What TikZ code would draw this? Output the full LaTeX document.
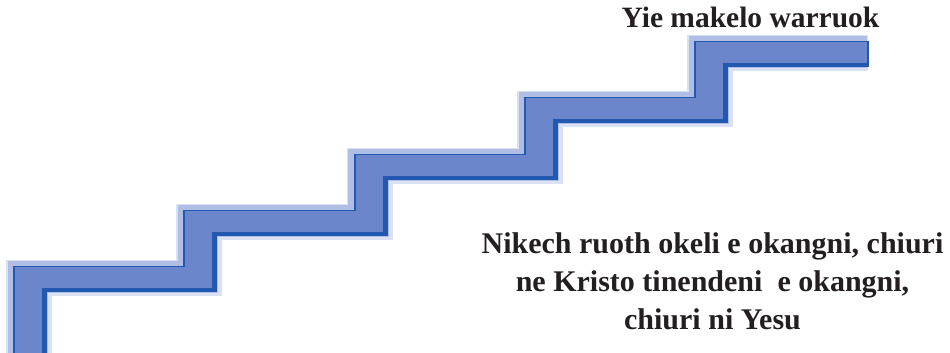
\documentclass[tikz,border=0pt]{standalone}
\usepackage{fontspec}
\setmainfont{Liberation Serif}
\begin{document}
\begin{tikzpicture}[x=1pt,y=-1pt,
  stairhalo/.style={line width=36pt, draw=stairfaint, line join=miter, line cap=butt},
  stairglow/.style={line width=32pt, draw=stairlight, line join=miter, line cap=butt},
  stairdark/.style={line width=26pt, draw=stairdeep, line join=miter, line cap=butt},
  stairmain/.style={line width=21pt, draw=stairmid, line join=miter, line cap=butt},
  label/.style={text=textink, align=center, inner sep=0pt}]
\definecolor{stairfaint}{RGB}{218,225,243}
\definecolor{stairlight}{RGB}{176,190,229}
\definecolor{stairdeep}{RGB}{34,88,176}
\definecolor{stairmid}{RGB}{108,134,203}
\definecolor{textink}{RGB}{35,31,32}
\useasboundingbox (0,0) rectangle (950,353);
\fill[white] (0,0) rectangle (950,353);
\begin{scope}
\clip (0,0) rectangle (950,353);
\begin{scope}[transform canvas={xscale=1.28}]
\def\stairpath{(22.66,372) -- (22.66,278) -- (155.47,278) -- (155.47,222) -- (289.06,222) -- (289.06,166) -- (421.88,166) -- (421.88,109) -- (554.69,109) -- (554.69,53) -- (678.1,53)}
\draw[stairhalo, shift={(-0.3,-0.4)}] \stairpath;
\draw[stairglow, shift={(-0.8,-1.2)}] \stairpath;
\draw[stairdark, shift={(0.8,1)}] \stairpath;
\draw[stairmain, shift={(-0.4,-0.5)}] \stairpath;
\end{scope}
\end{scope}
\node[label, font=\fontsize{29.5}{31}\selectfont\bfseries, anchor=base] (top) at (750.5,28) {Yie makelo warruok};
\node[label, font=\fontsize{30}{38}\selectfont\bfseries, anchor=base] (line1) at (712.5,253) {Nikech ruoth okeli e okangni, chiuri};
\node[label, font=\fontsize{30}{38}\selectfont\bfseries, anchor=base] (line2) at (712.5,291) {ne Kristo tinendeni~ e okangni,};
\node[label, font=\fontsize{30}{38}\selectfont\bfseries, anchor=base] (line3) at (712.5,329) {chiuri ni Yesu};
\end{tikzpicture}
\end{document}
